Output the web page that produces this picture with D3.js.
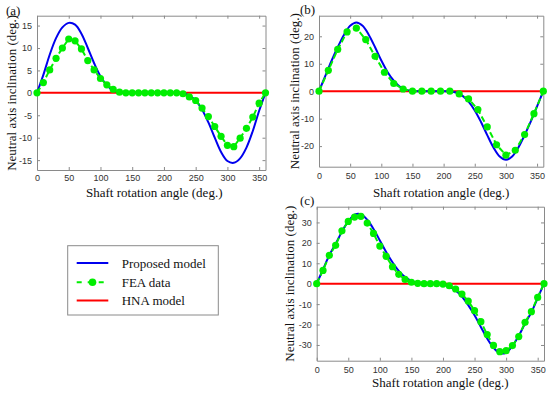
<!DOCTYPE html>
<html lang="en">
<head>
<meta charset="UTF-8">
<title>Neutral axis inclination</title>
<style>
  body { margin: 0; background: #fff; }
  .tick text { font-family: Arial, "Liberation Sans", sans-serif; font-size: 9px; fill: #333; }
  .ttl { font-family: "Liberation Serif", "Times New Roman", serif; font-size: 13px; fill: #111; }
</style>
</head>
<body>
<svg width="550" height="397" id="svg"></svg>
<script src="https://d3js.org/d3.v7.min.js"></script>
<script>
// ---- data ----
const angle10 = [0,10,20,30,40,50,60,70,80,90,100,110,120,130,140,150,160,170,180,190,200,210,220,230,240,250,260,270,280,290,300,310,320,330,340,350,360]
const angle15 = [0,15,30,45,60,75,90,105,120,135,150,165,180,195,210,225,240,255,270,285,300,315,330,345,360]

// (a)
const modelA = [0,4.0,8.5,12.2,14.6,15.6,15.2,13.2,10.0,6.6,3.7,1.7,0.6,0.1,0,0,0,0,0,0,0,0,0,-0.1,-0.6,-1.7,-3.7,-6.6,-10.0,-13.2,-15.2,-15.6,-14.6,-12.2,-8.5,-4.0,0]
const feaA = [0,2.3,5.1,7.7,10.0,12.0,11.6,9.8,7.2,5.1,3.2,1.8,0.8,0.15,0,0,0,0,0,0,0,0,0,-0.2,-0.9,-1.7,-3.4,-5.3,-7.5,-9.7,-11.7,-12.0,-10.1,-7.9,-5.4,-2.3,0]
// (b)
const modelB = [0,5.5,11.0,16.0,20.5,23.8,25.0,23.8,20.5,16.0,11.2,7.0,3.8,1.6,0.5,0.1,0,0,0,0,0,-0.1,-0.5,-1.6,-3.8,-7.0,-11.2,-16.0,-20.5,-23.8,-25.0,-23.8,-20.5,-16.0,-11.0,-5.5,0]
const feaB = [0,7.6,15.2,21.6,23.0,18.8,12.7,6.9,2.8,0.8,0,0,0,0,0,-1.0,-2.8,-6.7,-13.0,-19.5,-23.3,-21.5,-15.8,-8.2,0]
// (c)
const modelC = [0,7.0,14.0,19.5,25.5,30.5,33.8,34.0,31.3,26.8,21.2,15.5,10.5,6.3,3.3,1.4,0.4,0.05,0,-0.05,-0.4,-1.4,-3.3,-6.3,-10.5,-15.5,-21.2,-26.8,-31.3,-34.0,-33.8,-30.5,-25.5,-19.5,-14.0,-7.0,0]
const feaC = [0,6.5,13.9,18.8,25.9,30.5,32.6,33.0,29.7,24.6,18.4,13.4,8.3,4.6,2.1,0.7,0.2,0,0,0,-0.2,-1.0,-2.6,-5.1,-8.5,-13.2,-18.6,-24.9,-30.2,-33.3,-32.8,-30.3,-25.9,-18.9,-13.7,-6.7,0]

const xTicks = [0,50,100,150,200,250,300,350]
const yTicksA = [-15,-10,-5,0,5,10,15]
const yTicksB = [-20,-10,0,10,20]
const yTicksC = [-30,-20,-10,0,10,20,30]

const legendLabels = ["Proposed model", "FEA  data", "HNA model"]

const BLUE = "#0000ee", GREEN = "#00ee00", RED = "#ff0000", BOX = "#8a8a8a"

const svg = d3.select("svg#svg")

function panel(opt) {
    const x = d3.scaleLinear().domain([0, 360]).range([opt.left, opt.right])
    const y = d3.scaleLinear().domain([-opt.ymax, opt.ymax]).range([opt.bottom, opt.top])
    const g = svg.append("g")

    const fmt = d => String(d)
    g.append("g").attr("transform", `translate(0,${opt.bottom})`)
        .call(d3.axisBottom(x).tickValues(xTicks).tickFormat(fmt).tickSizeInner(-3).tickSizeOuter(0).tickPadding(opt.xpad))
    g.append("g").attr("transform", `translate(0,${opt.top})`)
        .call(d3.axisTop(x).tickValues(xTicks).tickFormat("").tickSizeInner(-3).tickSizeOuter(0))
    g.append("g").attr("transform", `translate(${opt.left},0)`)
        .call(d3.axisLeft(y).tickValues(opt.yTicks).tickFormat(fmt).tickSizeInner(-3).tickSizeOuter(0).tickPadding(5))
    g.append("g").attr("transform", `translate(${opt.right},0)`)
        .call(d3.axisRight(y).tickValues(opt.yTicks).tickFormat("").tickSizeInner(-3).tickSizeOuter(0))
    g.selectAll(".domain, .tick line").attr("stroke", BOX)

    // HNA model
    g.append("path").datum([0, 360])
        .attr("d", d3.line().x(d => x(d)).y(() => y(0)))
        .attr("stroke", RED).attr("stroke-width", 2).attr("fill", "none")

    // proposed model
    g.append("path").datum(d3.zip(angle10, opt.model))
        .attr("d", d3.line().x(d => x(d[0])).y(d => y(d[1])).curve(d3.curveCatmullRom))
        .attr("stroke", BLUE).attr("stroke-width", 2).attr("fill", "none")

    // FEA data
    const fea = d3.zip(opt.feaX, opt.fea)
    g.append("path").datum(fea)
        .attr("d", d3.line().x(d => x(d[0])).y(d => y(d[1])))
        .attr("stroke", GREEN).attr("stroke-width", 2).attr("stroke-dasharray", "6,3").attr("fill", "none")
    g.selectAll("circle.fea").data(fea).join("circle").attr("class", "fea")
        .attr("cx", d => x(d[0])).attr("cy", d => y(d[1])).attr("r", 3.6).attr("fill", GREEN)

    // labels
    g.append("text").attr("class", "ttl").attr("x", (opt.left + opt.right) / 2 + opt.xtx).attr("y", opt.bottom + opt.xty)
        .attr("text-anchor", "middle").text("Shaft rotation angle (deg.)")
    g.append("text").attr("class", "ttl")
        .attr("transform", `translate(${opt.ytx},${(opt.top + opt.bottom) / 2}) rotate(-90)`)
        .attr("text-anchor", "middle").text("Neutral axis inclination (deg.)")
    g.append("text").attr("class", "ttl").attr("x", opt.lx).attr("y", opt.ly).text(opt.letter)
}

panel({ left: 37, right: 265.5, top: 15.7, bottom: 170, ymax: 17.2, yTicks: yTicksA,
        model: modelA, feaX: angle10, fea: feaA, xpad: 5, xtx: 3, xty: 27, ytx: 16,
        letter: "(a)", lx: 6, ly: 15 })
panel({ left: 319, right: 543.3, top: 15.7, bottom: 166.7, ymax: 27.5, yTicks: yTicksB,
        model: modelB, feaX: angle15, fea: feaB, xpad: 6, xtx: 10, xty: 30, ytx: 299,
        letter: "(b)", lx: 300, ly: 14 })
panel({ left: 316.7, right: 544, top: 206.7, bottom: 360.7, ymax: 37.7, yTicks: yTicksC,
        model: modelC, feaX: angle10, fea: feaC, xpad: 6, xtx: 10, xty: 26.5, ytx: 294,
        letter: "(c)", lx: 300, ly: 205 })

// legend
const lg = svg.append("g")
lg.append("rect").attr("x", 67.7).attr("y", 245.7).attr("width", 150.6).attr("height", 69.3)
    .attr("fill", "#fff").attr("stroke", BOX)
const rows = [263, 282.3, 300.5]
legendLabels.forEach((t, i) => {
    const yy = rows[i]
    const col = [BLUE, GREEN, RED][i]
    lg.append("line").attr("x1", 76.7).attr("x2", 108.3).attr("y1", yy).attr("y2", yy)
        .attr("stroke", col).attr("stroke-width", 2).attr("stroke-dasharray", i === 1 ? "5,6" : null)
    if (i === 1) lg.append("circle").attr("cx", 92.5).attr("cy", yy).attr("r", 3.8).attr("fill", GREEN)
    lg.append("text").attr("class", "ttl").attr("x", 121.7).attr("y", yy + 4.5)
        .style("font-size", "13px").text(t)
})
</script>
</body>
</html>
